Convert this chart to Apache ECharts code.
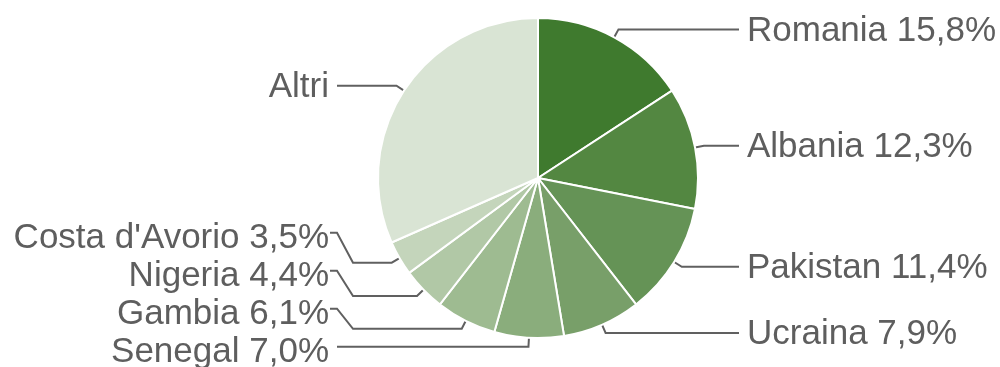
<!DOCTYPE html>
<html>
<head>
<meta charset="utf-8">
<title>Stranieri per cittadinanza</title>
<script src="https://cdn.jsdelivr.net/npm/echarts@6/dist/echarts.min.js"></script>
<style>
  html, body { margin: 0; padding: 0; background: #ffffff; }
  #chart { width: 1000px; height: 367px; }
</style>
</head>
<body>
<div id="chart"></div>
<script>
// Cittadinanze (percentuale sul totale degli stranieri residenti)
const countries = ['Romania', 'Albania', 'Pakistan', 'Ucraina', 'Senegal', 'Gambia', 'Nigeria', "Costa d'Avorio", 'Altri'];
const shares = [15.8, 12.3, 11.4, 7.9, 7.0, 6.1, 4.4, 3.5, 31.6];
const sliceColors = ['#3f7a2e', '#538741', '#659356', '#789f69', '#8aad7c', '#9ebb91', '#b1c8a6', '#c4d5bb', '#d9e4d4'];

// label line geometry
const LINE_LEN = 9;      // radial part outside the pie
const LINE_REACH = 41;   // horizontal reach of line ends from the pie edge
const TEXT_GAP = 8;      // gap between line end and text
const ROW_GAP = 38;      // minimum vertical distance between labels on one side

const chart = echarts.init(document.getElementById('chart'), null, { renderer: 'canvas' });

let rows = null;
function computeRows() {
  const data = chart.getModel().getSeriesByIndex(0).getData();
  const items = [];
  data.each(function (i) {
    const l = data.getItemLayout(i);
    const mid = (l.startAngle + l.endAngle) / 2;
    const dx = Math.cos(mid), dy = Math.sin(mid);
    items.push({
      i: i, dx: dx, dy: dy, cx: l.cx, cy: l.cy, r: l.r,
      side: dx < 0 ? -1 : 1,
      natY: l.cy + (l.r + LINE_LEN) * dy
    });
  });
  const out = {};
  [-1, 1].forEach(function (side) {
    const list = items.filter(function (it) { return it.side === side; })
      .sort(function (a, b) { return b.natY - a.natY; });
    let prev = Infinity;
    list.forEach(function (it) {
      it.rowY = Math.min(it.natY, prev - ROW_GAP);
      prev = it.rowY;
      out[it.i] = it;
    });
  });
  return out;
}

const names = countries.map(function (c, i) {
  return c === 'Altri' ? c : c + ' ' + shares[i].toFixed(1).replace('.', ',') + '%';
});

chart.setOption({
  animation: false,
  backgroundColor: '#ffffff',
  series: [{
    type: 'pie',
    center: ['53.8%', '48.5%'],
    radius: 160,
    startAngle: 90,
    clockwise: true,
    avoidLabelOverlap: false,
    itemStyle: { borderColor: '#ffffff', borderWidth: 2 },
    label: {
      show: true,
      formatter: function (p) { return names[p.dataIndex]; },
      color: '#5e5e5e',
      fontFamily: 'Liberation Sans, Arial, sans-serif',
      fontSize: 35
    },
    labelLine: {
      show: true,
      length: LINE_LEN,
      length2: 30,
      smooth: false,
      lineStyle: { color: '#606060', width: 2 }
    },
    emphasis: { disabled: true },
    labelLayout: function (params) {
      if (!rows) rows = computeRows();
      const it = rows[params.dataIndex];
      const s = it.side;
      const p0 = [it.cx + it.r * it.dx, it.cy + it.r * it.dy];
      const p1 = [it.cx + (it.r + LINE_LEN) * it.dx, it.natY];
      const alignX = it.cx + s * (it.r + LINE_REACH);
      let pts;
      if (Math.abs(it.rowY - it.natY) < 0.5) {
        pts = [p0, p1, [alignX, it.natY]];
      } else {
        pts = [p0, p1, [alignX - s * 16, it.natY], [alignX, it.rowY], [alignX + s * 7, it.rowY]];
      }
      // text sits a little below its line on the lower left side
      const textDrop = (s < 0 && it.dy > 0.3) ? 5.5 : 1.5;
      return {
        x: alignX + s * TEXT_GAP,
        y: it.rowY + textDrop,
        align: s < 0 ? 'right' : 'left',
        verticalAlign: 'middle',
        labelLinePoints: pts
      };
    },
    data: countries.map(function (c, i) {
      return { name: c, value: shares[i], itemStyle: { color: sliceColors[i] } };
    })
  }]
});
</script>
</body>
</html>
